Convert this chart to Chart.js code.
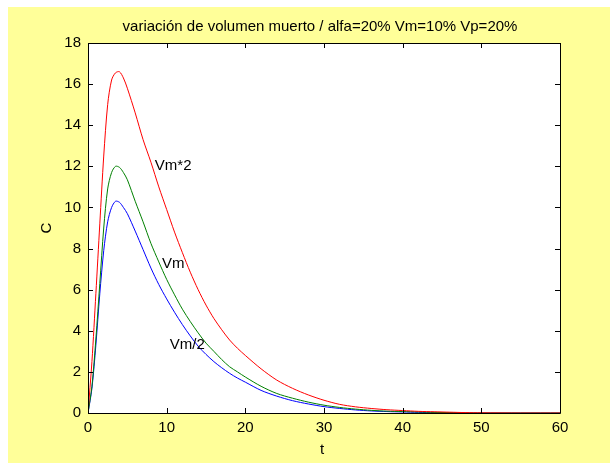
<!DOCTYPE html>
<html>
<head>
<meta charset="utf-8">
<script src="https://cdn.jsdelivr.net/npm/chart.js@4/dist/chart.umd.min.js"></script>
<style>
html,body{margin:0;padding:0;background:#fff;}
#wrap{position:absolute;left:0;top:0;width:610px;height:463px;}
</style>
</head>
<body>
<div id="wrap"><canvas id="c" width="610" height="463"></canvas></div>
<script>
const titleText = "variación de volumen muerto / alfa=20% Vm=10% Vp=20%";
const xLabel = "t";
const yLabel = "C";
const t = [0,0.5,1,1.5,2,2.5,3,3.5,4,4.5,5,6,7,8,9,10,11,12,13,14,15,16,17,18,19,20,22,24,26,28,30,32,34,36,38,40,42,44,46,48,50,55,60];
const vm2 = [0,2.5,5.8,9.2,12.5,15.0,16.2,16.55,16.6,16.3,15.8,14.6,13.3,12.2,11.0,9.9,8.8,7.8,6.85,6.0,5.25,4.6,4.05,3.55,3.15,2.8,2.15,1.6,1.2,0.88,0.62,0.42,0.3,0.22,0.16,0.12,0.08,0.06,0.04,0.02,0.01,0,0];
const vm  = [0,1.3,3.6,6.3,9.0,10.9,11.7,12.0,11.95,11.7,11.35,10.3,9.3,8.25,7.35,6.5,5.75,5.05,4.45,3.9,3.4,3.0,2.6,2.25,2.0,1.75,1.3,0.95,0.72,0.53,0.38,0.27,0.19,0.13,0.09,0.07,0.05,0.03,0.02,0.01,0,0,0];
const vmHalf = [0,1.2,3.3,5.8,7.9,9.3,10.0,10.3,10.25,10.0,9.7,8.85,7.95,7.05,6.25,5.55,4.9,4.3,3.75,3.25,2.85,2.5,2.2,1.93,1.7,1.5,1.1,0.82,0.6,0.44,0.31,0.22,0.15,0.1,0.07,0.05,0.03,0.02,0.01,0,0,0,0];
const seriesNames = ["Vm*2","Vm","Vm/2"];
const seriesColors = ["#ff0000","#008000","#0000ff"];
const labelPos = [[8.5,12.0],[9.4,7.25],[10.4,3.3]];
const xTicks = [0,10,20,30,40,50,60];
const yTicks = [0,2,4,6,8,10,12,14,16,18];

const FONT = "Arial, 'Liberation Sans', sans-serif";
const allSeries = [vm2, vm, vmHalf];

const datasets = allSeries.map((s,i)=>({
  label: seriesNames[i],
  data: t.map((x,j)=>({x:x,y:s[j]})),
  borderColor: seriesColors[i],
  borderWidth: 1,
  pointRadius: 0,
  tension: 0.3,
  fill: false
}));

const deco = {
  id:'deco',
  beforeDraw(chart){
    const ctx = chart.ctx;
    ctx.save();
    ctx.fillStyle = '#ffffff';
    ctx.fillRect(0,0,chart.width,chart.height);
    ctx.fillStyle = '#ffff99';
    ctx.fillRect(8,7,chart.width-8,chart.height-7);
    const a = chart.chartArea;
    ctx.fillStyle = '#ffffff';
    ctx.fillRect(a.left,a.top,a.right-a.left,a.bottom-a.top);
    ctx.restore();
  },
  afterDraw(chart){
    const ctx = chart.ctx;
    const a = chart.chartArea;
    const xs = chart.scales.x, ys = chart.scales.y;
    ctx.save();
    ctx.strokeStyle = '#000';
    ctx.lineWidth = 1;
    ctx.beginPath();
    ctx.rect(Math.round(a.left)+0.5, Math.round(a.top)+0.5, Math.round(a.right-a.left), Math.round(a.bottom-a.top));
    ctx.stroke();
    ctx.beginPath();
    const tl = 5;
    xTicks.forEach(v=>{
      const px = Math.round(xs.getPixelForValue(v))+0.5;
      ctx.moveTo(px,a.bottom); ctx.lineTo(px,a.bottom-tl);
      ctx.moveTo(px,a.top); ctx.lineTo(px,a.top+tl);
    });
    yTicks.forEach(v=>{
      const py = Math.round(ys.getPixelForValue(v))+0.5;
      ctx.moveTo(a.left,py); ctx.lineTo(a.left+tl,py);
      ctx.moveTo(a.right,py); ctx.lineTo(a.right-tl,py);
    });
    ctx.stroke();
    ctx.fillStyle = '#000';
    ctx.font = '15px ' + FONT;
    ctx.textAlign = 'center';
    ctx.textBaseline = 'middle';
    ctx.fillText(titleText, (a.left+a.right)/2 - 4, 27);
    ctx.fillText(xLabel, (a.left+a.right)/2 - 2, 450);
    ctx.save();
    ctx.translate(47, (a.top+a.bottom)/2);
    ctx.rotate(-Math.PI/2);
    ctx.fillText(yLabel, 0, 0);
    ctx.restore();
    ctx.textAlign = 'left';
    seriesNames.forEach((n,i)=>{
      ctx.fillText(n, xs.getPixelForValue(labelPos[i][0]), ys.getPixelForValue(labelPos[i][1]));
    });
    ctx.restore();
  }
};

new Chart(document.getElementById('c'), {
  type: 'line',
  data: { datasets },
  options: {
    responsive: false,
    animation: false,
    events: [],
    layout: { padding: { left: 0, top: 43, right: 50, bottom: 0 } },
    plugins: { legend: { display: false }, title: { display: false }, tooltip: { enabled: false } },
    scales: {
      x: {
        type: 'linear', min: 0, max: 60,
        afterBuildTicks(s){ s.ticks = xTicks.map(v=>({value:v})); },
        afterFit(s){ s.height = 50; },
        grid: { display: false, drawTicks: false },
        border: { display: false },
        ticks: { color: '#000', font: { family: FONT, size: 15 }, padding: 6, maxRotation: 0 }
      },
      y: {
        type: 'linear', min: 0, max: 18,
        afterBuildTicks(s){ s.ticks = yTicks.map(v=>({value:v})); },
        afterFit(s){ s.width = 88; },
        grid: { display: false, drawTicks: false },
        border: { display: false },
        ticks: { color: '#000', font: { family: FONT, size: 15 }, padding: 7 }
      }
    }
  },
  plugins: [deco]
});
</script>
</body>
</html>
